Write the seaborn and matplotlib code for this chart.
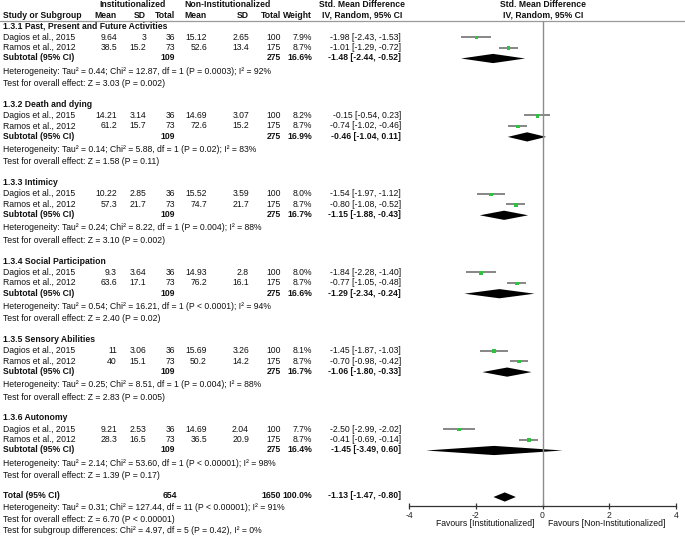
import numpy as np
import pandas as pd
import matplotlib
matplotlib.use('Agg')
import matplotlib.pyplot as plt
import seaborn as sns

# Data
subgroup_titles = ['1.3.1 Past, Present and Future Activities', '1.3.2 Death and dying',
                   '1.3.3 Intimicy', '1.3.4 Social Participation',
                   '1.3.5 Sensory Abilities', '1.3.6 Autonomy']
study_names = ['Dagios et al., 2015', 'Ramos et al., 2012']

inst_mean = [9.64, 38.5, 14.21, 61.2, 10.22, 57.3, 9.3, 63.6, 11, 40, 9.21, 28.3]
inst_sd = [3, 15.2, 3.14, 15.7, 2.85, 21.7, 3.64, 17.1, 3.06, 15.1, 2.53, 16.5]
inst_n = [36, 73] * 6
non_mean = [15.12, 52.6, 14.69, 72.6, 15.52, 74.7, 14.93, 76.2, 15.69, 50.2, 14.69, 36.5]
non_sd = [2.65, 13.4, 3.07, 15.2, 3.59, 21.7, 2.8, 16.1, 3.26, 14.2, 2.04, 20.9]
non_n = [100, 175] * 6
weight = [7.9, 8.7, 8.2, 8.7, 8.0, 8.7, 8.0, 8.7, 8.1, 8.7, 7.7, 8.7]
smd = [-1.98, -1.01, -0.15, -0.74, -1.54, -0.80, -1.84, -0.77, -1.45, -0.70, -2.50, -0.41]
smd_lo = [-2.43, -1.29, -0.54, -1.02, -1.97, -1.08, -2.28, -1.05, -1.87, -0.98, -2.99, -0.69]
smd_hi = [-1.53, -0.72, 0.23, -0.46, -1.12, -0.52, -1.40, -0.48, -1.03, -0.42, -2.02, -0.14]

sub_weight = [16.6, 16.9, 16.7, 16.6, 16.7, 16.4]
sub_smd = [-1.48, -0.46, -1.15, -1.29, -1.06, -1.45]
sub_lo = [-2.44, -1.04, -1.88, -2.34, -1.80, -3.49]
sub_hi = [-0.52, 0.11, -0.43, -0.24, -0.33, 0.60]
sub_tau2 = [0.44, 0.14, 0.24, 0.54, 0.25, 2.14]
sub_chi2 = [12.87, 5.88, 8.22, 16.21, 8.51, 53.60]
sub_chi_p = ['= 0.0003', '= 0.02', '= 0.004', '< 0.0001', '= 0.004', '< 0.00001']
sub_i2 = [92, 83, 88, 94, 88, 98]
sub_z = [3.03, 1.58, 3.10, 2.40, 2.83, 1.39]
sub_z_p = ['= 0.002', '= 0.11', '= 0.002', '= 0.02', '= 0.005', '= 0.17']

total_n = [654, 1650]
total_smd, total_lo, total_hi = -1.13, -1.47, -0.80

sns.set_theme(style='white')
plt.rcParams['font.family'] = ['Liberation Sans', 'DejaVu Sans']
plt.rcParams['axes.unicode_minus'] = False
FS = 6.2

fig = plt.figure(figsize=(6.85, 5.36), dpi=100)
# text layer in pixel coordinates
axt = fig.add_axes([0, 0, 1, 1])
axt.set_xlim(0, 685)
axt.set_ylim(536, 0)
axt.axis('off')

# forest layer: x in SMD units, y shares the pixel rows
ax = fig.add_axes([409 / 685, 0, 267 / 685, 1])
ax.patch.set_alpha(0)
ax.set_xlim(-4, 4)
ax.set_ylim(536, 0)


def txt(x, y, s, ha='left', bold=False):
    axt.text(x, y, s, ha=ha, va='center', fontsize=FS,
             fontweight='bold' if bold else 'normal', color='#111111')


# column right edges
cols = [117, 146, 175, 207, 249, 281, 312]
ci_right = 401

# headers
txt(133, 4.5, 'Institutionalized', ha='center', bold=True)
txt(228, 4.5, 'Non-Institutionalized', ha='center', bold=True)
txt(362, 4.5, 'Std. Mean Difference', ha='center', bold=True)
txt(543, 4.5, 'Std. Mean Difference', ha='center', bold=True)
txt(3, 15, 'Study or Subgroup', bold=True)
for x, h in zip(cols, ['Mean', 'SD', 'Total', 'Mean', 'SD', 'Total', 'Weight']):
    txt(x, 15, h, ha='right', bold=True)
txt(362, 15, 'IV, Random, 95% CI', ha='center', bold=True)
txt(543, 15, 'IV, Random, 95% CI', ha='center', bold=True)
axt.plot([0, 685], [20.5, 20.5], color='#9a9a9a', lw=0.9)

# rows
rows = []
for g in range(6):
    top = 26 + 78.4 * g
    txt(3, top, subgroup_titles[g], bold=True)
    for k in range(2):
        i = 2 * g + k
        y = top + 11 + 10.5 * k
        rows.append({'y': y, 'smd': smd[i], 'lo': smd_lo[i], 'hi': smd_hi[i]})
        txt(3, y, study_names[k])
        vals = [f'{inst_mean[i]:g}', f'{inst_sd[i]:g}', f'{inst_n[i]}',
                f'{non_mean[i]:g}', f'{non_sd[i]:g}', f'{non_n[i]}', f'{weight[i]:.1f}%']
        for x, v in zip(cols, vals):
            txt(x, y, v, ha='right')
        txt(ci_right, y, f'{smd[i]:.2f} [{smd_lo[i]:.2f}, {smd_hi[i]:.2f}]', ha='right')
    ys = top + 32
    txt(3, ys, 'Subtotal (95% CI)', bold=True)
    txt(cols[2], ys, f'{inst_n[0] + inst_n[1]}', ha='right', bold=True)
    txt(cols[5], ys, f'{non_n[0] + non_n[1]}', ha='right', bold=True)
    txt(cols[6], ys, f'{sub_weight[g]:.1f}%', ha='right', bold=True)
    txt(ci_right, ys, f'{sub_smd[g]:.2f} [{sub_lo[g]:.2f}, {sub_hi[g]:.2f}]', ha='right', bold=True)
    txt(3, top + 45, f'Heterogeneity: Tau² = {sub_tau2[g]:.2f}; Chi² = {sub_chi2[g]:.2f}, '
                     f'df = 1 (P {sub_chi_p[g]}); I² = {sub_i2[g]}%')
    txt(3, top + 57.5, f'Test for overall effect: Z = {sub_z[g]:.2f} (P {sub_z_p[g]})')
    d = ys + 0.5
    ax.fill([sub_lo[g], sub_smd[g], sub_hi[g], sub_smd[g]], [d, d - 4.6, d, d + 4.6],
            color='black', lw=0)

# overall
yt = 496
txt(3, yt, 'Total (95% CI)', bold=True)
txt(177, yt, f'{total_n[0]}', ha='right', bold=True)
txt(cols[5], yt, f'{total_n[1]}', ha='right', bold=True)
txt(cols[6], yt, '100.0%', ha='right', bold=True)
txt(ci_right, yt, f'{total_smd:.2f} [{total_lo:.2f}, {total_hi:.2f}]', ha='right', bold=True)
txt(3, 507.5, 'Heterogeneity: Tau² = 0.31; Chi² = 127.44, df = 11 (P < 0.00001); I² = 91%')
txt(3, 519, 'Test for overall effect: Z = 6.70 (P < 0.00001)')
txt(3, 530.5, 'Test for subgroup differences: Chi² = 4.97, df = 5 (P = 0.42), I² = 0%')
dt = yt + 1
ax.fill([total_lo, total_smd, total_hi, total_smd], [dt, dt - 4.6, dt, dt + 4.6],
        color='black', lw=0)

df = pd.DataFrame(rows)
ax.hlines(df['y'], df['lo'], df['hi'], color='#666666', lw=1.1)
sns.scatterplot(data=df, x='smd', y=df['y'] + 0.6, marker='s', s=6, color='#2fc23f',
                edgecolor='none', ax=ax, legend=False, zorder=3)
ax.vlines(0, 20.5, 506, color='#8c8c8c', lw=1.0)

# axis
for side in ['top', 'left', 'right']:
    ax.spines[side].set_visible(False)
ax.spines['bottom'].set_position(('data', 506))
ax.spines['bottom'].set_color('#333333')
ax.spines['bottom'].set_linewidth(0.9)
ax.set_xticks([-4, -2, 0, 2, 4])
ax.set_xticklabels(['-4', '-2', '0', '2', '4'])
ax.set_yticks([])
ax.set_xlabel('')
ax.set_ylabel('')
ax.tick_params(axis='x', direction='inout', length=5, width=0.9, color='#333333',
               labelsize=FS, pad=1, bottom=True)
txt(535, 523, 'Favours [Institutionalized]', ha='right')
txt(548, 523, 'Favours [Non-Institutionalized]')

fig.savefig('out.png', dpi=100)
